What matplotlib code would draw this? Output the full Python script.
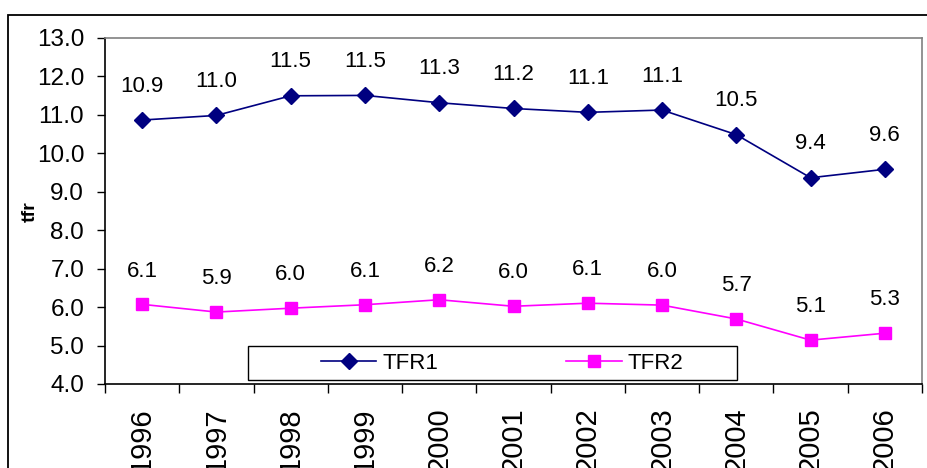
import matplotlib
matplotlib.use("Agg")
import matplotlib.pyplot as plt
from matplotlib.patches import Rectangle

plt.rcParams['font.family'] = ['Liberation Sans', 'DejaVu Sans']

years = ["1996", "1997", "1998", "1999", "2000", "2001", "2002", "2003", "2004", "2005", "2006"]
tfr1 = [10.86, 10.98, 11.49, 11.50, 11.31, 11.16, 11.06, 11.12, 10.48, 9.36, 9.58]
tfr2 = [6.07, 5.87, 5.97, 6.06, 6.19, 6.02, 6.10, 6.05, 5.69, 5.14, 5.32]
y_ticks = [4, 5, 6, 7, 8, 9, 10, 11, 12, 13]

fig = plt.figure(figsize=(9.27, 4.68), dpi=100)
ax = fig.add_axes([105/927, 1-384/468, 817/927, (384-37.7)/468])

x = list(range(len(years)))
ax.plot(x, tfr1, color='#000080', marker='D', markersize=8, lw=1.2, label='TFR1')
ax.plot(x, tfr2, color='#FF00FF', marker='s', markersize=8, lw=1.2, label='TFR2')

for xi, v in zip(x, tfr1):
    ax.annotate(f"{v:.1f}", (xi, v), xytext=(0, 24.5), textcoords='offset points',
                ha='center', va='center', fontsize=16)
for xi, v in zip(x, tfr2):
    ax.annotate(f"{v:.1f}", (xi, v), xytext=(0, 24), textcoords='offset points',
                ha='center', va='center', fontsize=16)

ax.set_xlim(-0.5, len(years) - 0.5)
ax.set_ylim(4, 13)
ax.set_yticks(y_ticks)
ax.set_yticklabels([f"{t:.1f}" for t in y_ticks], fontsize=17.5)
ax.tick_params(axis='y', direction='out', length=6, width=1, pad=9)

ax.set_xticks([i - 0.5 for i in range(len(years) + 1)])
ax.set_xticklabels([])
ax.set_xticks(x, minor=True)
ax.set_xticklabels(years, minor=True, rotation=90, fontsize=21)
ax.tick_params(axis='x', which='major', direction='out', length=6.5, width=1)
ax.tick_params(axis='x', which='minor', length=0, pad=17)
for lbl in ax.get_xticklabels(minor=True):
    lbl.set_va('top')

ax.spines['top'].set_color('#808080')
ax.spines['right'].set_color('#808080')
ax.spines['left'].set_color('black')
ax.spines['bottom'].set_color('black')
for s in ax.spines.values():
    s.set_linewidth(1.2)

ax.set_ylabel('tfr', fontsize=14, fontweight='bold')
ax.yaxis.set_label_coords((30 - 105) / 817, (384 - 212) / 346.3)
ax.yaxis.label.set_va('center')

# legend box
ax.add_patch(Rectangle((0.175, 0.0116), 0.5985, 0.0981, transform=ax.transAxes,
                       facecolor='white', edgecolor='black', lw=1, zorder=5))
leg = ax.legend(loc='center', bbox_to_anchor=(0.4862, 0.0606), ncol=2, frameon=False,
                fontsize=16, handlelength=2.48, handletextpad=0.27, columnspacing=5.77,
                borderpad=0.1)
leg.set_zorder(6)

# outer chart frame
fig.add_artist(Rectangle((8/927, -0.5), 1.2, 1 - 15/468 + 0.5, transform=fig.transFigure,
                         facecolor='none', edgecolor='black', lw=1.3, clip_on=False))

fig.savefig('out.png', dpi=100)
